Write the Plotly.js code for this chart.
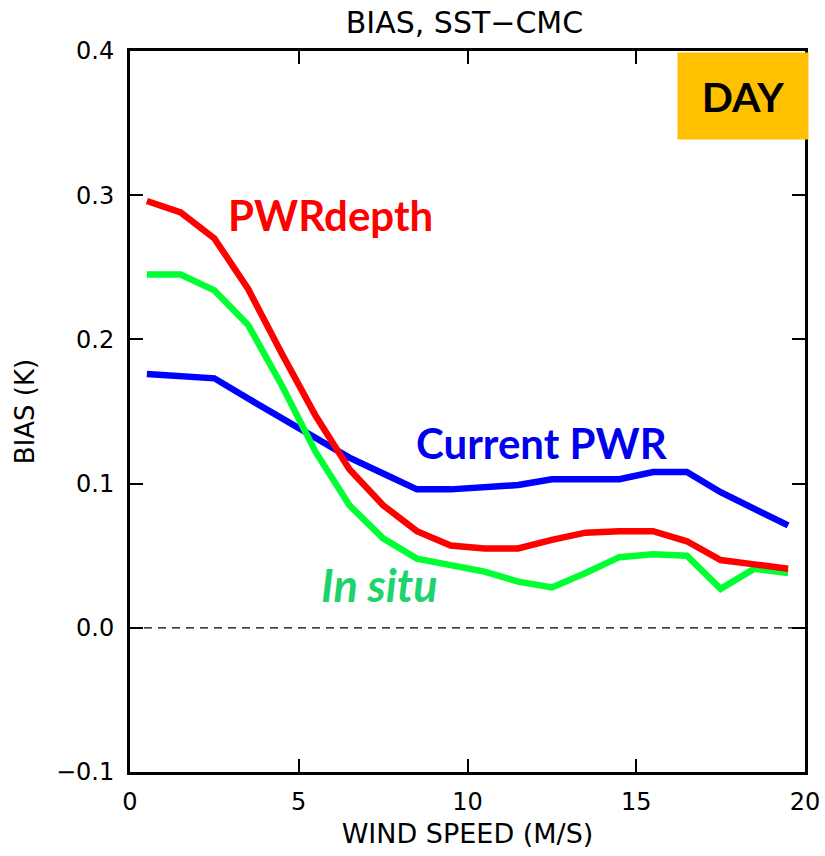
<!DOCTYPE html>
<html>
<head>
<meta charset="utf-8">
<script src="https://cdn.plot.ly/plotly-3.0.1.min.js"></script>
<style>html,body{margin:0;padding:0;background:#fff;}#chart{width:825px;height:856px;}</style>
</head>
<body>
<div id="chart"></div>
<script>
var windSpeed = [0.5,1.5,2.5,3.5,4.5,5.5,6.5,7.5,8.5,9.5,10.5,11.5,12.5,13.5,14.5,15.5,16.5,17.5,18.5,19.5];
var pwrDepth  = [0.296,0.288,0.270,0.235,0.190,0.147,0.110,0.085,0.067,0.057,0.055,0.055,0.061,0.066,0.067,0.067,0.060,0.047,0.044,0.041];
var currentPwr= [0.176,0.175,0.173,0.159,0.145,0.131,0.118,0.107,0.096,0.096,0.097,0.099,0.103,0.103,0.103,0.108,0.108,0.094,0.082,0.071];
var inSitu    = [0.245,0.245,0.234,0.210,0.168,0.122,0.085,0.062,0.048,0.043,0.039,0.032,0.028,0.038,0.049,0.051,0.050,0.027,0.041,0.038];
var xTicks = [0,5,10,15,20];
var yTicks = [-0.1,0.0,0.1,0.2,0.3,0.4];
var yTickText = ['\u22120.1','0.0','0.1','0.2','0.3','0.4'];

var lineW = 6.5;
var traces = [
  {x: windSpeed, y: currentPwr, mode:'lines', line:{color:'#0000ff', width:lineW}, name:'Current PWR'},
  {x: windSpeed, y: inSitu, mode:'lines', line:{color:'#00ff33', width:lineW}, name:'In situ'},
  {x: windSpeed, y: pwrDepth, mode:'lines', line:{color:'#ff0000', width:lineW}, name:'PWRdepth'}
];

var tickFont = {family:'DejaVu Sans', size:24, color:'#000'};
var layout = {
  width:825, height:856,
  margin:{l:130, r:20, t:51, b:84},
  paper_bgcolor:'#fff', plot_bgcolor:'#fff',
  showlegend:false,
  title:{text:'BIAS, SST\u2212CMC', font:{family:'DejaVu Sans', size:30, color:'#000'}, x:0.563, xanchor:'center', y:0.974, yanchor:'middle'},
  xaxis:{range:[0,20], tickvals:xTicks, ticktext:xTicks.map(String), ticks:'inside', ticklen:13, tickwidth:2, tickcolor:'#000',
         showline:true, linewidth:3, linecolor:'#000', mirror:'ticks', showgrid:false, zeroline:false,
         tickfont:tickFont, ticklabelstandoff:6,
         title:{text:'WIND SPEED (M/S)', font:{family:'DejaVu Sans', size:27, color:'#000'}, standoff:10}},
  yaxis:{range:[-0.1,0.4], tickvals:yTicks, ticktext:yTickText, ticks:'inside', ticklen:13, tickwidth:2, tickcolor:'#000',
         showline:true, linewidth:3, linecolor:'#000', mirror:'ticks', showgrid:false, zeroline:false,
         tickfont:tickFont, ticklabelstandoff:8,
         title:{text:'BIAS (K)', font:{family:'DejaVu Sans', size:26, color:'#000'}, standoff:14}},
  shapes:[
    {type:'line', xref:'x', yref:'y', x0:0, x1:20, y0:0, y1:0, line:{color:'#000', width:1.2, dash:'8px,6px'}, layer:'below'}
  ],
  annotations:[
    {text:'<b>PWRdepth</b>', xref:'x', yref:'y', x:5.93, y:0.286, showarrow:false, font:{family:'Lato', size:42, color:'#ff0000'}},
    {text:'<b>Current PWR</b>', xref:'x', yref:'y', x:12.2, y:0.128, showarrow:false, font:{family:'Lato', size:42, color:'#0000ee'}},
    {text:'<b><i>In situ</i></b>', xref:'x', yref:'y', x:7.4, y:0.030, showarrow:false, font:{family:'Lato', size:45, color:'#1fd36c'}},
    {text:'<b>DAY</b>', xref:'paper', yref:'paper', x:0.81, y:0.9986, xanchor:'left', yanchor:'top', showarrow:false,
     width:130, height:86, bgcolor:'#ffc000', borderpad:0, font:{family:'Lato', size:41, color:'#000'}}
  ]
};
Plotly.newPlot('chart', traces, layout, {displayModeBar:false, staticPlot:true});
</script>
</body>
</html>
